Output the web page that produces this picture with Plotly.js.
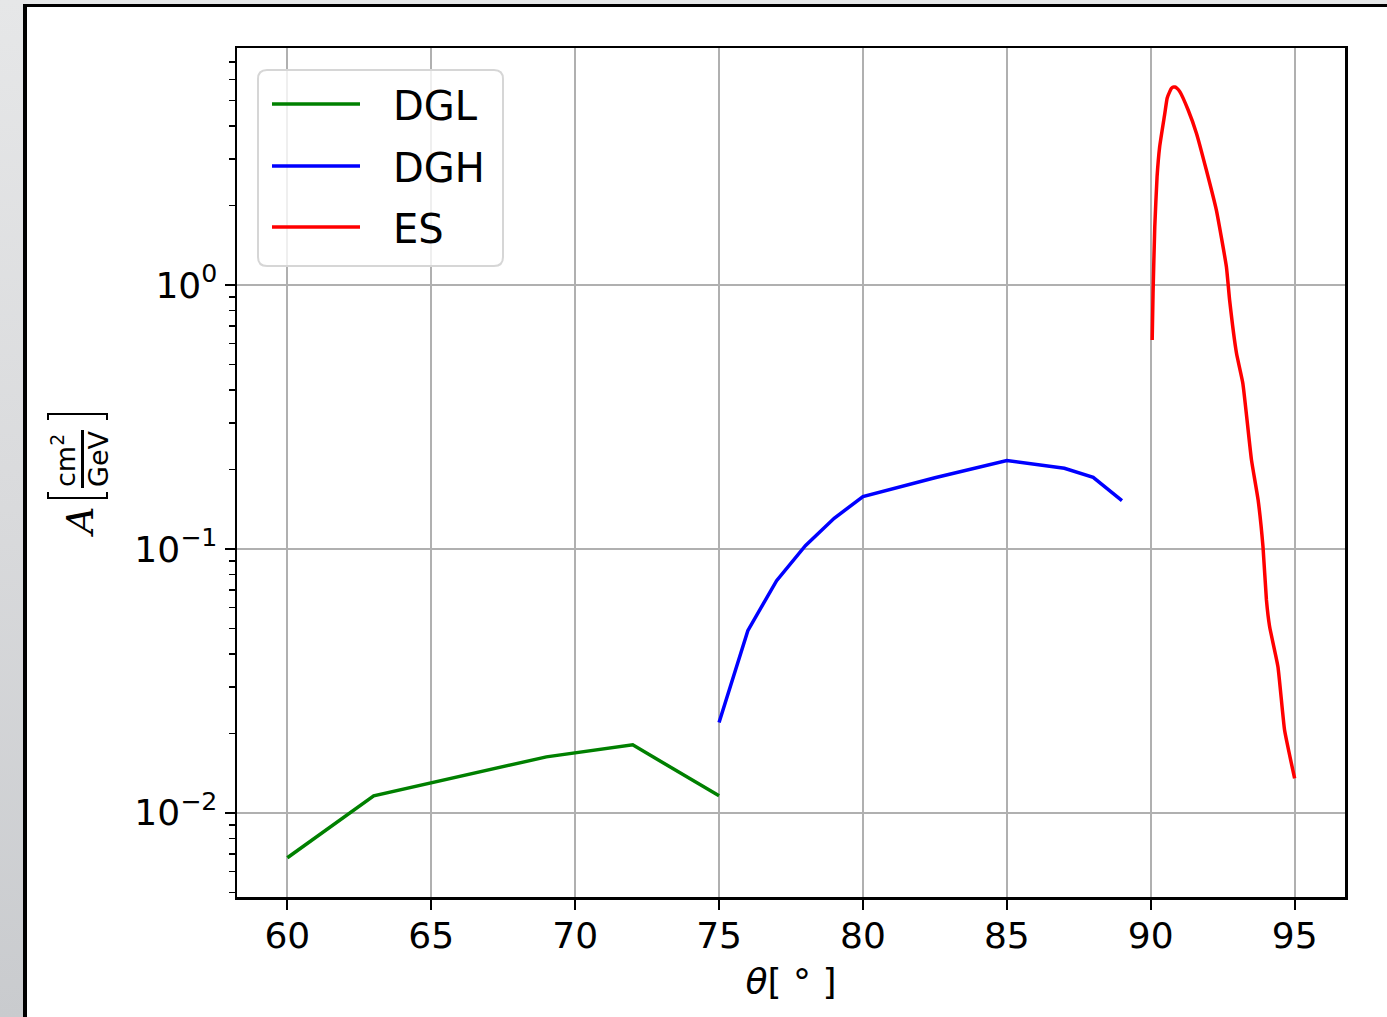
<!DOCTYPE html>
<html>
<head>
<meta charset="utf-8">
<script src="https://cdn.plot.ly/plotly-3.0.1.min.js"></script>
<style>
  html, body { margin: 0; padding: 0; width: 1387px; height: 1017px; overflow: hidden;
    background: linear-gradient(to bottom, #e6e7e8 0%, #d9dadc 50%, #c9cbce 100%); }
  #frame { position: absolute; left: 23px; top: 4px; width: 1364px; height: 1013px;
    border-left: 4px solid #000; border-top: 3px solid #000; background: #fff; }
  #chart { position: absolute; left: 0; top: 0; width: 1360px; height: 1010px; }
</style>
</head>
<body>
<div id="frame"><div id="chart"></div></div>
<script>
// ---- data ----
const dglTheta = [60, 63, 69, 72, 75];
const dglA     = [0.00676, 0.0116, 0.0163, 0.0181, 0.0116];

const dghTheta = [75, 76, 77, 78, 79, 80, 82.5, 85, 87, 88, 89];
const dghA     = [0.0220, 0.0490, 0.0758, 0.1029, 0.1306, 0.1578, 0.186, 0.2160, 0.2021, 0.1868, 0.1524];

const esTheta = [90.05, 90.08, 90.14, 90.22, 90.31, 90.49, 90.57, 90.66, 90.72, 90.77, 90.84, 90.91, 91.01, 91.30, 91.59, 91.93,
                 92.28, 92.63, 92.74, 92.98, 93.20, 93.50, 93.73, 93.90, 94.02, 94.13, 94.42, 94.65, 95.0];
const esA     = [0.619, 0.93, 1.66, 2.57, 3.34, 4.47, 5.10, 5.40, 5.56, 5.62, 5.62, 5.56, 5.40, 4.60, 3.75, 2.73,
                 1.92, 1.17, 0.877, 0.551, 0.4245, 0.2174, 0.1534, 0.102, 0.0641, 0.0508, 0.0358, 0.0206, 0.0135];

const seriesNames  = ['DGL', 'DGH', 'ES'];
const seriesColors = ['#008000', '#0000ff', '#ff0000'];

const xTickVals = [60, 65, 70, 75, 80, 85, 90, 95];
const yTickVals = [1, 0.1, 0.01];
const yTickText = ['10<sup>0</sup>', '10<sup>\u22121</sup>', '10<sup>\u22122</sup>'];

// minor log ticks 2..9 per decade
const yMinor = [];
for (let e = -3; e <= 0; e++) for (let m = 2; m <= 9; m++) yMinor.push(m * Math.pow(10, e));

const font = 'DejaVu Sans, sans-serif';
const lw = 3.5;

// plot-area geometry (page pixels inside the chart div) for paper conversion
const W = 1360, H = 1010, ML = 210, MR = 42, MT = 41, MB = 120;
const PW = W - ML - MR, PH = H - MT - MB;
const OX = 27, OY = 7; // chart div offset in page
const px = x => (x - OX - ML) / PW;
const py = y => 1 - (y - OY - MT) / PH;

const traces = [
  {x: dglTheta, y: dglA, name: seriesNames[0], mode: 'lines', line: {color: seriesColors[0], width: lw}},
  {x: dghTheta, y: dghA, name: seriesNames[1], mode: 'lines', line: {color: seriesColors[1], width: lw}},
  {x: esTheta,  y: esA,  name: seriesNames[2], mode: 'lines', line: {color: seriesColors[2], width: lw, shape: 'spline', smoothing: 0.4}}
];

// ---- legend box (drawn manually to match matplotlib look) ----
const shapes = [];
const annotations = [];
(function () {
  const L = 258, R = 503, T = 70, B = 266, r = 9;
  const path = `M ${px(L + r)},${py(T)} L ${px(R - r)},${py(T)} Q ${px(R)},${py(T)} ${px(R)},${py(T + r)} ` +
    `L ${px(R)},${py(B - r)} Q ${px(R)},${py(B)} ${px(R - r)},${py(B)} L ${px(L + r)},${py(B)} ` +
    `Q ${px(L)},${py(B)} ${px(L)},${py(B - r)} L ${px(L)},${py(T + r)} Q ${px(L)},${py(T)} ${px(L + r)},${py(T)} Z`;
  shapes.push({type: 'path', xref: 'paper', yref: 'paper', path: path,
    fillcolor: 'rgba(255,255,255,0.8)', line: {color: '#d6d6d6', width: 2}, layer: 'above'});
  const rows = [104, 166, 227];
  seriesNames.forEach((n, i) => {
    shapes.push({type: 'line', xref: 'paper', yref: 'paper', x0: px(272), x1: px(360), y0: py(rows[i]), y1: py(rows[i]),
      line: {color: seriesColors[i], width: lw}, layer: 'above'});
    annotations.push({xref: 'paper', yref: 'paper', x: px(391), y: py(rows[i] + 2), xanchor: 'left', yanchor: 'middle',
      text: n, showarrow: false, font: {family: font, size: 40, color: '#000'}});
  });
})();

// ---- y-axis label: A [cm^2 / GeV] with stacked fraction, rotated ----
(function () {
  const rot = -90;
  annotations.push({xref: 'paper', yref: 'paper', x: px(80), y: py(522), xanchor: 'center', yanchor: 'middle',
    text: '<i>A</i>', textangle: rot, showarrow: false, font: {family: 'DejaVu Serif, serif', size: 38, color: '#000'}});
  annotations.push({xref: 'paper', yref: 'paper', x: px(63), y: py(461), xanchor: 'center', yanchor: 'middle',
    text: 'cm<sup>2</sup>', textangle: rot, showarrow: false, font: {family: font, size: 27, color: '#000'}});
  annotations.push({xref: 'paper', yref: 'paper', x: px(98), y: py(459), xanchor: 'center', yanchor: 'middle',
    text: 'GeV', textangle: rot, showarrow: false, font: {family: font, size: 27, color: '#000'}});
  // fraction bar
  shapes.push({type: 'line', xref: 'paper', yref: 'paper', x0: px(82.5), x1: px(82.5), y0: py(430), y1: py(488),
    line: {color: '#000', width: 3}});
  // brackets (rotated [ and ])
  shapes.push({type: 'path', xref: 'paper', yref: 'paper',
    path: `M ${px(48)},${py(492)} L ${px(48)},${py(498)} L ${px(107)},${py(498)} L ${px(107)},${py(492)}`,
    line: {color: '#000', width: 2}});
  shapes.push({type: 'path', xref: 'paper', yref: 'paper',
    path: `M ${px(48)},${py(420)} L ${px(48)},${py(414)} L ${px(107)},${py(414)} L ${px(107)},${py(420)}`,
    line: {color: '#000', width: 2}});
})();

const layout = {
  width: W, height: H,
  margin: {l: ML, r: MR, t: MT, b: MB},
  paper_bgcolor: '#ffffff', plot_bgcolor: '#ffffff',
  font: {family: font, color: '#000', size: 36},
  showlegend: false,
  shapes: shapes,
  annotations: annotations,
  xaxis: {
    range: [58.25, 96.75],
    tickvals: xTickVals,
    ticks: 'outside', ticklen: 10, tickwidth: 2, tickcolor: '#000',
    ticklabelstandoff: -5,
    showline: true, linecolor: '#000', linewidth: 2.5, mirror: true,
    showgrid: true, gridcolor: '#b0b0b0', gridwidth: 2,
    zeroline: false,
    tickfont: {family: font, size: 36, color: '#000'},
    title: {text: '<i>θ</i>[ ° ]', font: {family: font, size: 36, color: '#000'}, standoff: 14}
  },
  yaxis: {
    type: 'log',
    range: [Math.log10(0.0048), Math.log10(7.9)],
    tickmode: 'array', tickvals: yTickVals, ticktext: yTickText,
    ticks: 'outside', ticklen: 10, tickwidth: 2, tickcolor: '#000',
    minor: {tickmode: 'array', tickvals: yMinor, ticks: 'outside', ticklen: 6, tickwidth: 1.5, tickcolor: '#000', showgrid: false},
    showline: true, linecolor: '#000', linewidth: 2.5, mirror: true,
    showgrid: true, gridcolor: '#b0b0b0', gridwidth: 2,
    zeroline: false,
    tickfont: {family: font, size: 36, color: '#000'}
  }
};

Plotly.newPlot('chart', traces, layout, {displayModeBar: false, staticPlot: true});
</script>
</body>
</html>
